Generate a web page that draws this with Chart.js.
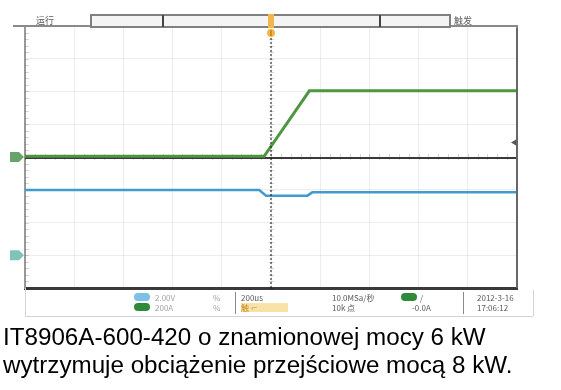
<!DOCTYPE html>
<html lang="pl">
<head>
<meta charset="UTF-8">
<title>IT8906A-600-420</title>
<script src="https://cdn.jsdelivr.net/npm/chart.js@4"></script>
<style>
  * { margin: 0; padding: 0; box-sizing: border-box; }
  body { width: 561px; height: 390px; background: #fff; position: relative; overflow: hidden; font-family: 'Liberation Sans', Arial, sans-serif; }
  #scope { position: absolute; left: 0; top: 0; }
  .lbl { position: absolute; font-family: 'Noto Sans CJK SC', 'DejaVu Sans', sans-serif; font-size: 8px; line-height: 9px; color: #a4a4a4; white-space: nowrap; }
  .dark { color: #5a5a5a; }
  .hl { background: #f8e2a8; color: #c98a20; padding-right: 30px; }
  .caption { position: absolute; left: 3px; top: 323px; font-size: 24.2px; line-height: 28px; color: #000; white-space: nowrap; }
</style>
</head>
<body>
<canvas id="scope" width="561" height="318"></canvas>

<span class="lbl dark" style="left:36px;top:16px;font-size:9px">运行</span>
<span class="lbl dark" style="left:454px;top:16px;font-size:9px">触发</span>

<span class="lbl" style="left:155px;top:293px">2.00V</span>
<span class="lbl" style="left:213px;top:293px">%</span>
<span class="lbl" style="left:155px;top:303px">200A</span>
<span class="lbl" style="left:213px;top:303px">%</span>
<span class="lbl dark" style="left:241px;top:293px">200us</span>
<span class="lbl hl" style="left:241px;top:303px">触 ⌐</span>
<span class="lbl dark" style="left:332px;top:293px">10.0MSa/秒</span>
<span class="lbl dark" style="left:332px;top:303px">10k 点</span>
<span class="lbl dark" style="left:420px;top:293px">/</span>
<span class="lbl dark" style="left:412px;top:303px">-0.0A</span>
<span class="lbl dark" style="left:477px;top:293px">2012-3-16</span>
<span class="lbl dark" style="left:477px;top:303px">17:06:12</span>

<div class="caption">IT8906A-600-420 o znamionowej mocy 6 kW<br>wytrzymuje obciążenie przejściowe mocą 8 kW.</div>

<script>
// screen coordinates in divisions: x 0..10, y 0..8 (centre line at 4)
const greenX = [0, 4.86, 5.78, 10];
const greenY = [4.02, 4.02, 6.02, 6.02];
const blueX = [0, 4.76, 4.9, 5.74, 5.84, 10];
const blueY = [2.99, 2.99, 2.82, 2.82, 2.92, 2.92];
const centreX = [0, 10];
const centreY = [3.97, 3.97];
const triggerX = [5, 5];
const triggerY = [0, 8];
const greenMarkerLevel = 4.0;
const blueMarkerLevel = 1.0;
const trigLevel = 4.44;

const pts = (xs, ys) => xs.map((x, i) => ({ x, y: ys[i] }));

const scopeFrame = {
  id: 'scopeFrame',
  beforeDatasetsDraw(chart) {
    const { ctx, chartArea: a, scales: { x, y } } = chart;
    ctx.save();
    ctx.strokeStyle = 'rgba(0,0,0,0.16)';
    ctx.lineWidth = 1;
    // minor ticks along left axis, centre row and centre column
    for (let v = 0; v <= 8.001; v += 0.2) {
      const py = Math.round(y.getPixelForValue(v)) + 0.5;
      ctx.beginPath(); ctx.moveTo(a.left, py); ctx.lineTo(a.left + 4, py); ctx.stroke();
      const cx = Math.round(x.getPixelForValue(5));
      ctx.beginPath(); ctx.moveTo(cx - 2, py); ctx.lineTo(cx + 3, py); ctx.stroke();
    }
    for (let v = 0; v <= 10.001; v += 0.2) {
      const px = Math.round(x.getPixelForValue(v)) + 0.5;
      const cy = Math.round(y.getPixelForValue(4));
      ctx.beginPath(); ctx.moveTo(px, cy - 3); ctx.lineTo(px, cy + 3); ctx.stroke();
    }
    ctx.restore();
  },
  afterDraw(chart) {
    const { ctx, chartArea: a, scales: { x, y } } = chart;
    ctx.save();
    // top and right frame
    ctx.strokeStyle = '#8a8a8a';
    ctx.lineWidth = 2;
    ctx.beginPath(); ctx.moveTo(13, a.top); ctx.lineTo(a.right, a.top); ctx.lineTo(a.right, a.bottom); ctx.stroke();
    ctx.strokeStyle = '#666';
    ctx.beginPath(); ctx.moveTo(a.right, a.top + 2); ctx.lineTo(a.right, a.bottom); ctx.stroke();

    // memory bar at the top
    ctx.fillStyle = '#f4f4f4';
    ctx.fillRect(91, 15, 359, 12);
    ctx.strokeStyle = '#808080';
    ctx.lineWidth = 2;
    ctx.strokeRect(91, 15, 359, 12);
    ctx.fillStyle = '#444';
    ctx.fillRect(162, 15, 2, 12);
    ctx.fillRect(379, 15, 2, 12);
    const tx = x.getPixelForValue(5);
    ctx.fillStyle = '#f2b64a';
    ctx.fillRect(tx - 3, 14, 6, 14);
    ctx.beginPath(); ctx.arc(tx, 33, 4, 0, Math.PI * 2); ctx.fill();
    ctx.fillStyle = '#d98c1a';
    ctx.fillRect(tx - 1, 30, 2, 6);

    // channel markers on the left
    const marker = (py, col) => {
      ctx.fillStyle = col;
      ctx.beginPath();
      ctx.moveTo(10, py - 5); ctx.lineTo(19, py - 5); ctx.lineTo(24, py);
      ctx.lineTo(19, py + 5); ctx.lineTo(10, py + 5); ctx.closePath(); ctx.fill();
    };
    marker(y.getPixelForValue(greenMarkerLevel), '#66a46a');
    marker(y.getPixelForValue(blueMarkerLevel), '#80c4b8');

    // trigger level marker on the right
    const ty = y.getPixelForValue(trigLevel);
    ctx.fillStyle = '#555';
    ctx.beginPath(); ctx.moveTo(a.right - 6, ty); ctx.lineTo(a.right - 1, ty - 3); ctx.lineTo(a.right - 1, ty + 3); ctx.closePath(); ctx.fill();

    // status bar
    ctx.strokeStyle = '#d4d4d4';
    ctx.lineWidth = 1;
    ctx.beginPath(); ctx.moveTo(25, 316.5); ctx.lineTo(533, 316.5); ctx.stroke();
    ctx.beginPath(); ctx.moveTo(25.5, a.bottom); ctx.lineTo(25.5, 316); ctx.stroke();
    ctx.beginPath(); ctx.moveTo(533.5, 290); ctx.lineTo(533.5, 316); ctx.stroke();
    ctx.strokeStyle = '#8a8a8a';
    ctx.beginPath(); ctx.moveTo(235.5, 292); ctx.lineTo(235.5, 314); ctx.stroke();
    ctx.beginPath(); ctx.moveTo(463.5, 292); ctx.lineTo(463.5, 314); ctx.stroke();
    const badge = (bx, by, col) => {
      ctx.fillStyle = col;
      ctx.beginPath(); ctx.roundRect(bx, by, 16, 8, 4); ctx.fill();
    };
    badge(134, 293, '#7cc0e4');
    badge(134, 303, '#2f8a3a');
    badge(401, 293, '#2f8a3a');
    ctx.restore();
  }
};

new Chart(document.getElementById('scope'), {
  type: 'line',
  data: {
    datasets: [
      { data: pts(triggerX, triggerY), borderColor: '#111', borderWidth: 1, borderDash: [2, 2] },
      { data: pts(greenX, greenY), borderColor: '#4f9640', borderWidth: 3 },
      { data: pts(greenX, greenY), borderColor: '#80c46c', borderWidth: 1.2 },
      { data: pts(centreX, centreY), borderColor: '#3a3a3a', borderWidth: 2 },
      { data: pts(blueX, blueY), borderColor: '#3f9ccc', borderWidth: 2.5 },
      { data: pts(blueX, blueY), borderColor: '#80cbee', borderWidth: 1 },
    ].map(d => ({ ...d, pointRadius: 0, tension: 0, fill: false })),
  },
  options: {
    responsive: false,
    animation: false,
    devicePixelRatio: 1,
    layout: { padding: { left: 25, right: 44, top: 26, bottom: 30 } },
    plugins: { legend: { display: false }, tooltip: { enabled: false } },
    scales: {
      x: {
        type: 'linear', min: 0, max: 10,
        ticks: { display: false, stepSize: 1 },
        grid: { color: 'rgba(0,0,0,0.07)', drawTicks: false },
        border: { color: '#3a3a3a', width: 3 },
        afterFit: s => { s.height = 0; },
      },
      y: {
        type: 'linear', min: 0, max: 8,
        ticks: { display: false, stepSize: 1 },
        grid: { color: 'rgba(0,0,0,0.07)', drawTicks: false },
        border: { color: '#999', width: 2 },
        afterFit: s => { s.width = 0; },
      },
    },
  },
  plugins: [scopeFrame],
});
</script>
</body>
</html>
